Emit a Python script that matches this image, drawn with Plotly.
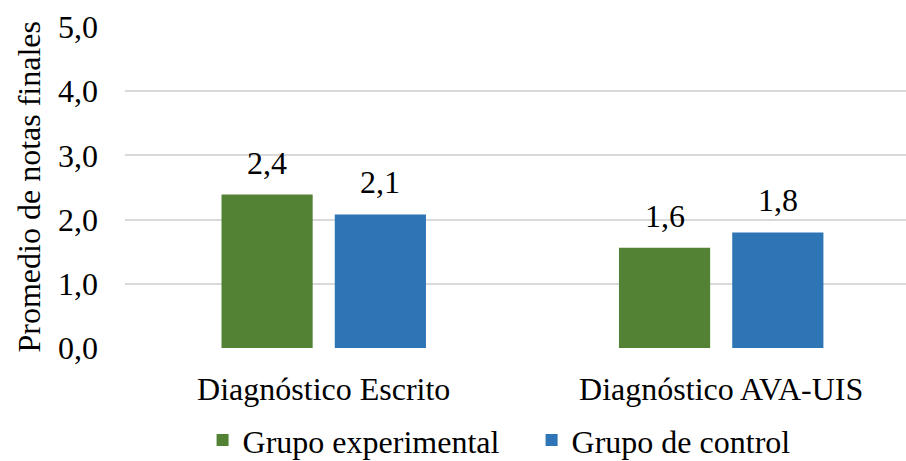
import plotly.graph_objects as go

categories = ["Diagnóstico Escrito", "Diagnóstico AVA-UIS"]
grupo_experimental = [2.39, 1.56]
grupo_control = [2.08, 1.80]
series_names = ["Grupo experimental", "Grupo de control"]
series_values = [grupo_experimental, grupo_control]
series_colors = ["#548235", "#2E75B6"]
y_title = "Promedio de notas finales"

FONT = "Liberation Serif"
FS = 32
BARGAP = 0.43
BARGROUPGAP = 0.195

fig = go.Figure()
for name, vals, col in zip(series_names, series_values, series_colors):
    fig.add_trace(go.Bar(
        x=list(range(len(categories))), y=vals, name=name,
        marker=dict(color=col, line=dict(width=0)),
    ))

# value labels above each bar, positioned from the data and the bar-group geometry
n_series = len(series_values)
slot = (1 - BARGAP) / n_series
for j, vals in enumerate(series_values):
    for i, v in enumerate(vals):
        xc = i - (1 - BARGAP) / 2 + slot * (j + 0.5)
        fig.add_annotation(
            x=xc, y=v, xref="x", yref="y",
            text=f"{v:.1f}".replace(".", ","),
            showarrow=False, xanchor="center", yanchor="bottom", yshift=12,
            font=dict(family=FONT, size=FS, color="black"),
        )

fig.update_layout(
    width=906, height=461,
    margin=dict(l=125, r=0, t=27, b=113),
    paper_bgcolor="white", plot_bgcolor="white",
    font=dict(family=FONT, size=FS, color="black"),
    separators=",.",
    barmode="group", bargap=BARGAP, bargroupgap=BARGROUPGAP,
    showlegend=True,
    legend=dict(orientation="h", x=0.5206, xanchor="center", yref="container", y=0.045, yanchor="middle",
                font=dict(family=FONT, size=FS, color="black"),
                traceorder="normal", entrywidth=284, entrywidthmode="pixels"),
)
fig.update_xaxes(
    range=[-0.5, 1.465], showgrid=False, zeroline=False, showline=False,
    tickmode="array", tickvals=list(range(len(categories))), ticktext=categories,
    ticks="", tickfont=dict(family=FONT, size=FS, color="black"),
    ticklabelstandoff=19, automargin=False,
)
fig.update_yaxes(
    range=[0, 5], dtick=1, tick0=0, tickformat=".1f",
    showgrid=True, gridcolor="#D9D9D9", gridwidth=1.5,
    zeroline=False, showline=False, ticks="",
    tickfont=dict(family=FONT, size=FS, color="black"),
    ticklabelstandoff=26, automargin=False,
)
fig.add_annotation(
    text=y_title, textangle=-90, xref="paper", yref="paper",
    x=0, xshift=-97, y=0.5, xanchor="center", yanchor="middle",
    showarrow=False, font=dict(family=FONT, size=FS, color="black"),
)

fig.write_html("out.html", config={"displayModeBar": False},
               post_script="document.body.style.margin='0';document.body.style.padding='0';")
